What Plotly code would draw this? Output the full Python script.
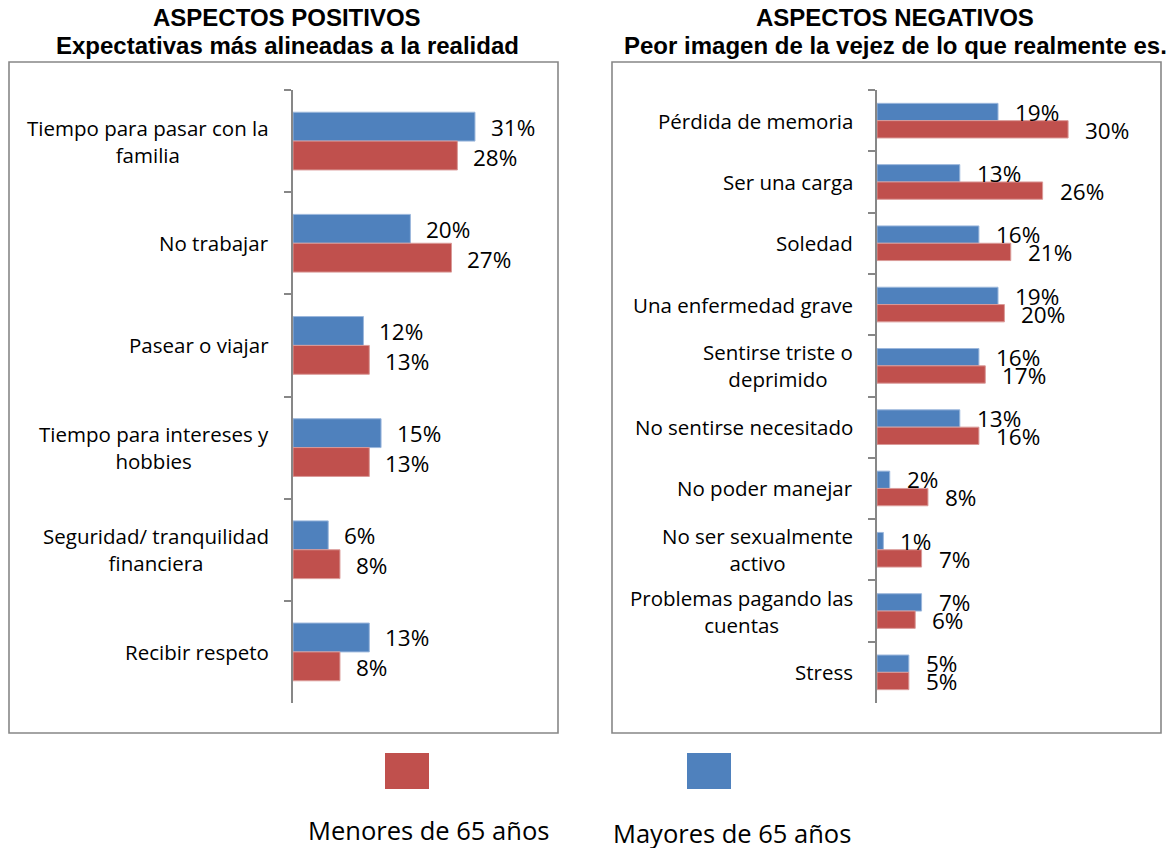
import plotly.graph_objects as go

# ---------------- data ----------------
pos_categories = [
    "Tiempo para pasar con la<br>familia",
    "No trabajar",
    "Pasear o viajar ",
    "Tiempo para intereses y<br>hobbies",
    "Seguridad/ tranquilidad<br>financiera",
    "Recibir respeto",
]
pos_mayores = [31, 20, 12, 15, 6, 13]
pos_menores = [28, 27, 13, 13, 8, 8]

neg_categories = [
    "Pérdida de memoria",
    "Ser una carga",
    "Soledad",
    "Una enfermedad grave",
    "Sentirse triste o<br>deprimido",
    "No sentirse necesitado",
    "No poder manejar",
    "No ser sexualmente<br>activo",
    "Problemas pagando las<br>cuentas",
    "Stress",
]
neg_mayores = [19, 13, 16, 19, 16, 13, 2, 1, 7, 5]
neg_menores = [30, 26, 21, 20, 17, 16, 8, 7, 6, 5]

series_names = ["Mayores de 65 años", "Menores de 65 años"]
left_titles = ["ASPECTOS POSITIVOS", "Expectativas más alineadas a la realidad"]
right_titles = ["ASPECTOS NEGATIVOS", "Peor imagen de la vejez de lo que realmente es."]

# ---------------- styling / geometry (page pixels) ----------------
PAGE_W, PAGE_H = 1174, 848
OFF = 8                      # default body margin of the html page
FW, FH = PAGE_W - OFF, PAGE_H - OFF
BLUE = "#4F81BD"
RED = "#C0504D"
GRAY = "#878787"
BODY_FONT = "'Open Sans', Lato, sans-serif"
TITLE_FONT = "'Liberation Sans', Arial, sans-serif"


def px(x):
    return (x - OFF) / FW


def py(y):
    return 1 - (y - OFF) / FH


fig = go.Figure()

panels = [
    dict(cats=pos_categories, may=pos_mayores, men=pos_menores, xa="x", ya="y"),
    dict(cats=neg_categories, may=neg_mayores, men=neg_menores, xa="x2", ya="y2"),
]
for p in panels:
    fig.add_trace(go.Bar(y=p["cats"], x=p["may"], orientation="h", name=series_names[0],
                         marker=dict(color=BLUE, line=dict(color="#9BB7DC", width=1)),
                         xaxis=p["xa"], yaxis=p["ya"], showlegend=False, hoverinfo="x+y"))
    fig.add_trace(go.Bar(y=p["cats"], x=p["men"], orientation="h", name=series_names[1],
                         marker=dict(color=RED, line=dict(color="#DA9A98", width=1)),
                         xaxis=p["xa"], yaxis=p["ya"], showlegend=False, hoverinfo="x+y"))

LEFT_AX, RIGHT_AX = 293, 877
LEFT_PPU, RIGHT_PPU = 5.87, 6.37
LEFT_W, RIGHT_W = 252, 272
TOP, BOT = 90, 703

common_y = dict(type="category", autorange="reversed", showline=True, linecolor=GRAY, linewidth=1.6,
                ticks="outside", tickson="boundaries", ticklen=7, tickcolor=GRAY, tickwidth=1.6,
                showticklabels=False, showgrid=False, zeroline=False, fixedrange=True)
common_x = dict(visible=False, showgrid=False, zeroline=False, fixedrange=True)

fig.update_layout(
    width=FW, height=FH,
    margin=dict(l=0, r=0, t=0, b=0),
    paper_bgcolor="white", plot_bgcolor="white",
    barmode="group", bargap=0.435, bargroupgap=0,
    xaxis=dict(domain=[px(LEFT_AX), px(LEFT_AX + LEFT_W)], range=[0, LEFT_W / LEFT_PPU], anchor="y", **common_x),
    yaxis=dict(domain=[py(BOT), py(TOP)], anchor="x", **common_y),
    xaxis2=dict(domain=[px(RIGHT_AX), px(RIGHT_AX + RIGHT_W)], range=[0, RIGHT_W / RIGHT_PPU], anchor="y2", **common_x),
    yaxis2=dict(domain=[py(BOT), py(TOP)], anchor="x2", **common_y),
)

ann = []
LABEL_SIZE = 22.5
CAT_SIZE = 20.5


def add_panel_annotations(cats, may, men, xref, yref, axis_px, off, rshift, xs):
    for c, a, b in zip(cats, may, men):
        ann.append(dict(x=a, y=c, xref=xref, yref=yref, text=f"{a}%", showarrow=False,
                        xanchor="left", yanchor="middle", xshift=xs, yshift=off,
                        font=dict(family=BODY_FONT, size=LABEL_SIZE, color="black")))
        ann.append(dict(x=b, y=c, xref=xref, yref=yref, text=f"{b}%", showarrow=False,
                        xanchor="left", yanchor="middle", xshift=xs, yshift=-off - rshift,
                        font=dict(family=BODY_FONT, size=LABEL_SIZE, color="black")))
        ann.append(dict(x=px(axis_px - 22), y=c, xref="paper", yref=yref, text=c.strip(),
                        showarrow=False, xanchor="right", yanchor="middle", align="center",
                        font=dict(family=BODY_FONT, size=CAT_SIZE, color="black")))


add_panel_annotations(pos_categories, pos_mayores, pos_menores, "x", "y", LEFT_AX, 14, 2, 14)
add_panel_annotations(neg_categories, neg_mayores, neg_menores, "x2", "y2", RIGHT_AX, 8.5, 1, 15)

# panel titles
for cx, lines in [(287, left_titles), (895, right_titles)]:
    for yy, t in zip([18, 46], lines):
        ann.append(dict(x=px(cx), y=py(yy), xref="paper", yref="paper", text=f"<b>{t}</b>",
                        showarrow=False, xanchor="center", yanchor="middle",
                        font=dict(family=TITLE_FONT, size=24, color="black")))

# legend texts
ann.append(dict(x=px(428), y=py(830), xref="paper", yref="paper", text=series_names[1], showarrow=False,
                xanchor="center", yanchor="middle", font=dict(family=BODY_FONT, size=25.5, color="black")))
ann.append(dict(x=px(732), y=py(833), xref="paper", yref="paper", text=series_names[0], showarrow=False,
                xanchor="center", yanchor="middle", font=dict(family=BODY_FONT, size=25.5, color="black")))

shapes = [
    dict(type="rect", xref="paper", yref="paper", x0=px(9), x1=px(558), y0=py(733), y1=py(62),
         line=dict(color=GRAY, width=1.6), fillcolor="rgba(0,0,0,0)", layer="below"),
    dict(type="rect", xref="paper", yref="paper", x0=px(612), x1=px(1161), y0=py(733), y1=py(62),
         line=dict(color=GRAY, width=1.6), fillcolor="rgba(0,0,0,0)", layer="below"),
    dict(type="rect", xref="paper", yref="paper", x0=px(385), x1=px(429), y0=py(789), y1=py(753),
         line=dict(width=0), fillcolor=RED),
    dict(type="rect", xref="paper", yref="paper", x0=px(687), x1=px(731), y0=py(789), y1=py(753),
         line=dict(width=0), fillcolor=BLUE),
]

fig.update_layout(annotations=ann, shapes=shapes)
fig.write_html("out.html")
